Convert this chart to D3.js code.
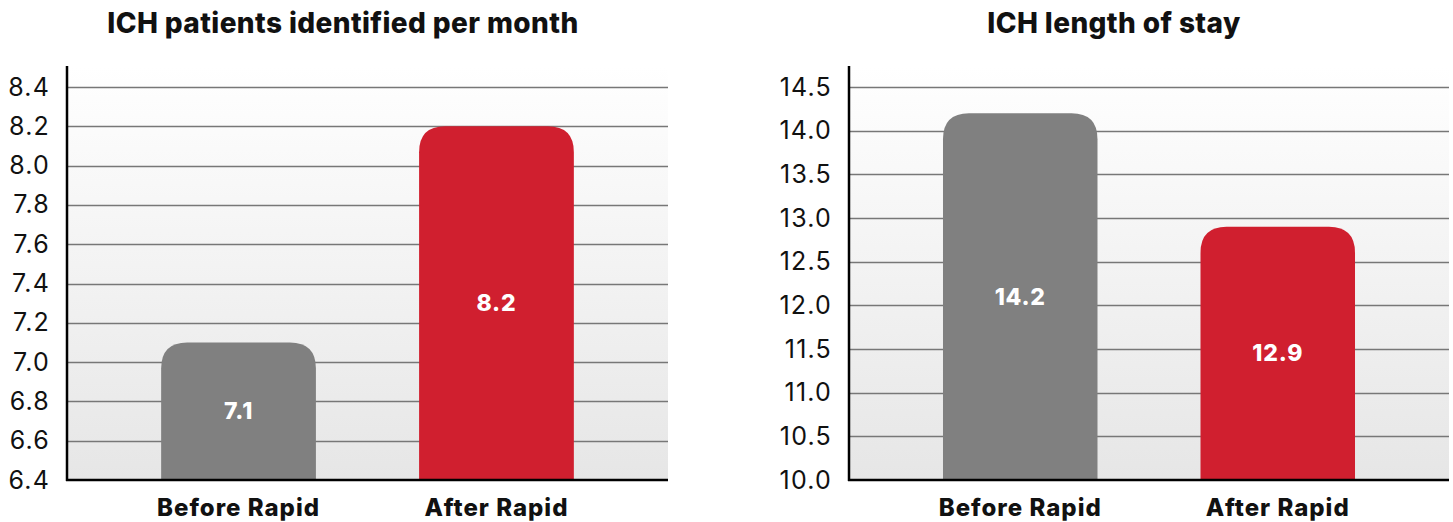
<!DOCTYPE html>
<html>
<head>
<meta charset="utf-8">
<script src="https://cdn.jsdelivr.net/npm/d3@7"></script>
<style>
  body { margin: 0; background: #fff; }
  svg text { font-family: "Inter", "Open Sans", sans-serif; }
</style>
</head>
<body>
<div class="charts"></div>
<script>
const categories = ["Before Rapid", "After Rapid"];
const patientsPerMonth = [7.1, 8.2];
const lengthOfStay = [14.2, 12.9];
const patientsTicks = [6.4, 6.6, 6.8, 7.0, 7.2, 7.4, 7.6, 7.8, 8.0, 8.2, 8.4];
const stayTicks = [10.0, 10.5, 11.0, 11.5, 12.0, 12.5, 13.0, 13.5, 14.0, 14.5];
const titles = ["ICH patients identified per month", "ICH length of stay"];
const barColors = ["#808080", "#d01f2f"];

const W = 1453, H = 522;

const svg = d3.select(".charts")
  .append("svg")
    .attr("width", W)
    .attr("height", H);

const defs = svg.append("defs");
const grad = defs.append("linearGradient")
    .attr("id", "bg")
    .attr("x1", 0).attr("y1", 0).attr("x2", 0).attr("y2", 1);
grad.append("stop").attr("offset", "0%").attr("stop-color", "#ffffff");
grad.append("stop").attr("offset", "100%").attr("stop-color", "#e6e6e6");

// rounded top corners only
function topRounded(x, y, w, h, r) {
  r = Math.min(r, w / 2, h);
  return `M${x},${y + h}V${y + r}Q${x},${y} ${x + r},${y}H${x + w - r}Q${x + w},${y} ${x + w},${y + r}V${y + h}Z`;
}

function drawPanel(cfg) {
  const g = svg.append("g");
  const top = 66, bottom = 480;

  const x = d3.scaleBand()
    .domain(categories)
    .range([cfg.left, cfg.right])
    .paddingInner(0.4)
    .paddingOuter(0.365);

  const y = d3.scaleLinear()
    .domain(cfg.domain)
    .range([bottom, 87]);

  // background
  g.append("rect")
    .attr("x", cfg.left)
    .attr("y", top)
    .attr("width", cfg.right - cfg.left)
    .attr("height", bottom - top)
    .attr("fill", "url(#bg)");

  // gridlines
  g.append("g")
    .selectAll("line")
    .data(cfg.ticks.slice(1))
    .join("line")
      .attr("x1", cfg.left)
      .attr("x2", cfg.right)
      .attr("y1", d => Math.round(y(d)) + 0.5)
      .attr("y2", d => Math.round(y(d)) + 0.5)
      .attr("stroke", "#777")
      .attr("stroke-width", 1.3);

  // bars
  g.append("g")
    .selectAll("path")
    .data(cfg.values)
    .join("path")
      .attr("fill", (d, i) => barColors[i])
      .attr("d", (d, i) => topRounded(x(categories[i]), y(d), x.bandwidth(), bottom - y(d), 26));

  // value labels
  g.append("g")
    .selectAll("text")
    .data(cfg.values)
    .join("text")
      .attr("x", (d, i) => x(categories[i]) + x.bandwidth() / 2)
      .attr("y", d => (y(d) + bottom) / 2)
      .attr("dy", "0.35em")
      .attr("text-anchor", "middle")
      .attr("fill", "#fff")
      .attr("font-weight", 800)
      .attr("font-size", 23)
      .attr("letter-spacing", 0.8)
      .text(d => d.toFixed(1));

  // y axis
  const yAxis = g.append("g")
    .attr("transform", `translate(${cfg.left},0)`)
    .call(d3.axisLeft(y).tickValues(cfg.ticks).tickFormat(d3.format(".1f")).tickSize(0).tickPadding(17));
  yAxis.select(".domain").remove();
  yAxis.selectAll("text")
    .attr("font-size", 25)
    .attr("letter-spacing", 1.2)
    .attr("fill", "#111")
    .style("font-family", "Inter, 'Open Sans', sans-serif");

  g.append("line")
    .attr("x1", cfg.left).attr("x2", cfg.left)
    .attr("y1", top).attr("y2", bottom + 1)
    .attr("stroke", "#000").attr("stroke-width", 2.5);

  // x axis
  g.append("line")
    .attr("x1", cfg.left - 1).attr("x2", cfg.right)
    .attr("y1", bottom).attr("y2", bottom)
    .attr("stroke", "#000").attr("stroke-width", 2.5);

  g.append("g")
    .selectAll("text")
    .data(categories)
    .join("text")
      .attr("x", d => x(d) + x.bandwidth() / 2)
      .attr("y", 516)
      .attr("text-anchor", "middle")
      .attr("font-weight", 800)
      .attr("font-size", 24)
      .attr("letter-spacing", 1)
      .attr("fill", "#111")
      .text(d => d);

  // title
  g.append("text")
    .attr("x", cfg.titleX)
    .attr("y", 33)
    .attr("text-anchor", "middle")
    .attr("font-weight", 800)
    .attr("font-size", 28)
    .attr("letter-spacing", 0.4)
    .attr("fill", "#111")
    .text(cfg.title);
}

drawPanel({left: 67, right: 668, domain: [6.4, 8.4], ticks: patientsTicks, values: patientsPerMonth, title: titles[0], titleX: 343});
drawPanel({left: 849, right: 1449, domain: [10, 14.5], ticks: stayTicks, values: lengthOfStay, title: titles[1], titleX: 1114});
</script>
</body>
</html>
